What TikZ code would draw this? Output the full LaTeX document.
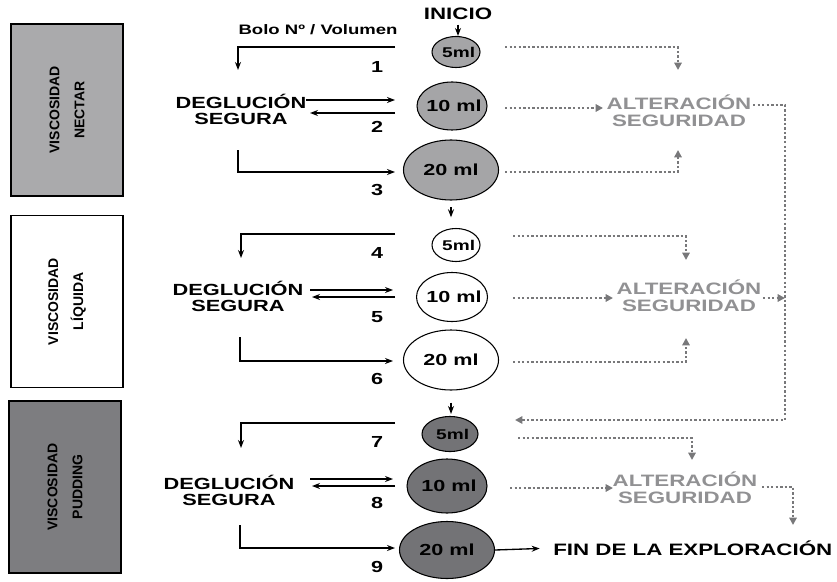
\documentclass[tikz,border=0pt]{standalone}
\usepackage{fontspec}
\setmainfont{Liberation Sans}
\newfontfamily\widefont{Liberation Sans}[FakeStretch=1.35]
\usetikzlibrary{shapes.geometric,arrows.meta}
\definecolor{nectar}{RGB}{170,170,172}
\definecolor{pudding}{RGB}{125,125,128}
\definecolor{bolgray}{RGB}{165,165,167}
\definecolor{boldark}{RGB}{115,115,118}
\definecolor{altgray}{RGB}{145,145,147}
\definecolor{dotgray}{RGB}{120,120,122}

\begin{document}
\begin{tikzpicture}[x=0.75pt,y=-0.75pt,
    arr/.style={-{Stealth[length=6pt,width=4.5pt]}, line width=1pt},
    dotline/.style={dotgray, line width=2pt, dash pattern=on 1.8pt off 1.6pt},
    dotarr/.style={dotline, -{Triangle[length=5.5pt,width=5.5pt]}},
    visc/.style={draw, line width=0.8pt, rotate=90, minimum width=129pt, minimum height=84pt,
        align=center, font=\bfseries\fontsize{10.5}{18.75}\selectfont},
    bolo/.style={ellipse, draw, line width=0.8pt, inner sep=0pt},
    ml/.style={font=\widefont\bfseries\fontsize{12}{12}\selectfont},
    mls/.style={font=\widefont\bfseries\fontsize{10.6}{12}\selectfont},
    num/.style={font=\widefont\bfseries\fontsize{12}{12}\selectfont},
    deg/.style={align=center, font=\widefont\bfseries\fontsize{12.1}{12}\selectfont},
    alt/.style={text=altgray, align=center, font=\widefont\bfseries\fontsize{12.4}{12.5}\selectfont},
    big/.style={font=\widefont\bfseries\fontsize{12.4}{12}\selectfont}]

    \useasboundingbox (0,0) rectangle (837,581);

    \node [visc, fill=nectar] (v1) at (67,110) {VISCOSIDAD\\NECTAR};
    \node [visc, fill=white] (v2) at (67,301.5) {VISCOSIDAD\\LÍQUIDA};
    \node [visc, fill=pudding] (v3) at (65,487) {VISCOSIDAD\\PUDDING};

    \node [font=\widefont\bfseries\fontsize{10.3}{12}\selectfont] (bolo) at (318,30) {Bolo Nº / Volumen};
    \node [big] (inicio) at (458,14) {INICIO};

    \node [bolo, fill=bolgray, minimum width=36pt, minimum height=23.25pt] (b1) at (456,52) {};
    \node [bolo, fill=bolgray, minimum width=52.5pt, minimum height=36pt] (b2) at (452,106) {};
    \node [bolo, fill=bolgray, minimum width=71.25pt, minimum height=45pt] (b3) at (451,170) {};
    \node [bolo, fill=white, minimum width=36pt, minimum height=24.75pt] (b4) at (456,245) {};
    \node [bolo, fill=white, minimum width=53.25pt, minimum height=36.75pt] (b5) at (452,297) {};
    \node [bolo, fill=white, minimum width=71.25pt, minimum height=45pt] (b6) at (451,360) {};
    \node [bolo, fill=boldark, minimum width=42pt, minimum height=26.25pt] (b7) at (450,434) {};
    \node [bolo, fill=boldark, minimum width=60pt, minimum height=40.5pt] (b8) at (447,486) {};
    \node [bolo, fill=boldark, minimum width=71.25pt, minimum height=42.75pt] (b9) at (447,550) {};
    \foreach \i in {1,4,7}
        \node [mls] (m\i) at ([xshift=2pt]b\i) {5ml};
    \foreach \i in {2,5,8}
        \node [ml] (m\i) at ([xshift=1.5pt]b\i) {10 ml};
    \foreach \i in {3,6,9}
        \node [ml] (m\i) at (b\i) {20 ml};

    \draw [arr] (inicio.south) -- (inicio.south |- b1.north);
    \draw [arr, shorten <=5pt, shorten >=8pt] (b3.south) -- (b3.south |- b4.north);
    \draw [arr, shorten <=9pt, shorten >=1.5pt] (b6.south) -- (b6.south |- b7.north);

    \foreach \n/\y in {1/67,2/127,3/190,4/253,5/317,6/379,7/442,8/503,9/567}
        \node [num] (n\n) at (377,\y) {\n};

    \node [deg] (s1) at (241,109) {DEGLUCIÓN\\SEGURA};
    \node [deg] (s2) at (238,296) {DEGLUCIÓN\\SEGURA};
    \node [deg] (s3) at (229,490) {DEGLUCIÓN\\SEGURA};

    \coordinate (l1a) at (395,47);  \coordinate (l1b) at (238,70);
    \coordinate (g1a) at (306,100); \coordinate (g1b) at (395,100);
    \coordinate (g1c) at (395,113); \coordinate (g1d) at (310,113);
    \coordinate (h1a) at (238,150); \coordinate (h1b) at (395,172);
    \coordinate (l2a) at (395,234); \coordinate (l2b) at (241,258);
    \coordinate (g2a) at (310,290); \coordinate (g2b) at (393,290);
    \coordinate (g2c) at (395,297); \coordinate (g2d) at (312,297);
    \coordinate (h2a) at (240,337); \coordinate (h2b) at (393,361);
    \coordinate (l3a) at (395,423); \coordinate (l3b) at (241,448);
    \coordinate (g3a) at (310,479); \coordinate (g3b) at (393,479);
    \coordinate (g3c) at (395,486); \coordinate (g3d) at (312,486);
    \coordinate (h3a) at (240,525); \coordinate (h3b) at (395,548);

    \draw [arr] (l1a) -| (l1b);
    \draw [arr] (g1a) -- (g1b);
    \draw [arr] (g1c) -- (g1d);
    \draw [arr] (h1a) |- (h1b);
    \draw [arr] (l2a) -| (l2b);
    \draw [arr] (g2a) -- (g2b);
    \draw [arr] (g2c) -- (g2d);
    \draw [arr] (h2a) |- (h2b);
    \draw [arr] (l3a) -| (l3b);
    \draw [arr] (g3a) -- (g3b);
    \draw [arr] (g3c) -- (g3d);
    \draw [arr] (h3a) |- (h3b);

    \node [alt] (alt1) at (679,111) {ALTERACIÓN\\SEGURIDAD};
    \node [alt] (alt2) at (689,296) {ALTERACIÓN\\SEGURIDAD};
    \node [alt] (alt3) at (685,488) {ALTERACIÓN\\SEGURIDAD};

    \coordinate (r1a) at (505,47);  \coordinate (r1b) at (678,70);
    \coordinate (r1c) at (505,108); \coordinate (r1d) at (603,108);
    \coordinate (r1e) at (753,105); \coordinate (r1f) at (785,420); \coordinate (r1g) at (515,420);
    \coordinate (r1h) at (505,172); \coordinate (r1i) at (678,150);
    \coordinate (r2a) at (513,236); \coordinate (r2b) at (686,260);
    \coordinate (r2c) at (513,298); \coordinate (r2d) at (613,298);
    \coordinate (r2e) at (763,298); \coordinate (r2f) at (785,298);
    \coordinate (r2h) at (513,362); \coordinate (r2i) at (686,338);
    \coordinate (r3a) at (518,438); \coordinate (r3b) at (692,460);
    \coordinate (r3c) at (510,488); \coordinate (r3d) at (613,488);
    \coordinate (r3e) at (762,487); \coordinate (r3f) at (793,525);

    \draw [dotarr] (r1a) -| (r1b);
    \draw [dotarr] (r1c) -- (r1d);
    \draw [dotarr] (r1e) -| (r1f) -- (r1g);
    \draw [dotarr] (r1h) -| (r1i);
    \draw [dotarr] (r2a) -| (r2b);
    \draw [dotarr] (r2c) -- (r2d);
    \draw [dotarr] (r2e) -- (r2f);
    \draw [dotarr] (r2h) -| (r2i);
    \draw [dotarr] (r3a) -| (r3b);
    \draw [dotarr] (r3c) -- (r3d);
    \draw [dotarr] (r3e) -| (r3f);

    \node [big, anchor=west, inner sep=0pt] (fin) at (553,548) {FIN DE LA EXPLORACIÓN};
    \draw [arr, shorten >=10pt] (b9.east) -- (fin.west);
\end{tikzpicture}
\end{document}
